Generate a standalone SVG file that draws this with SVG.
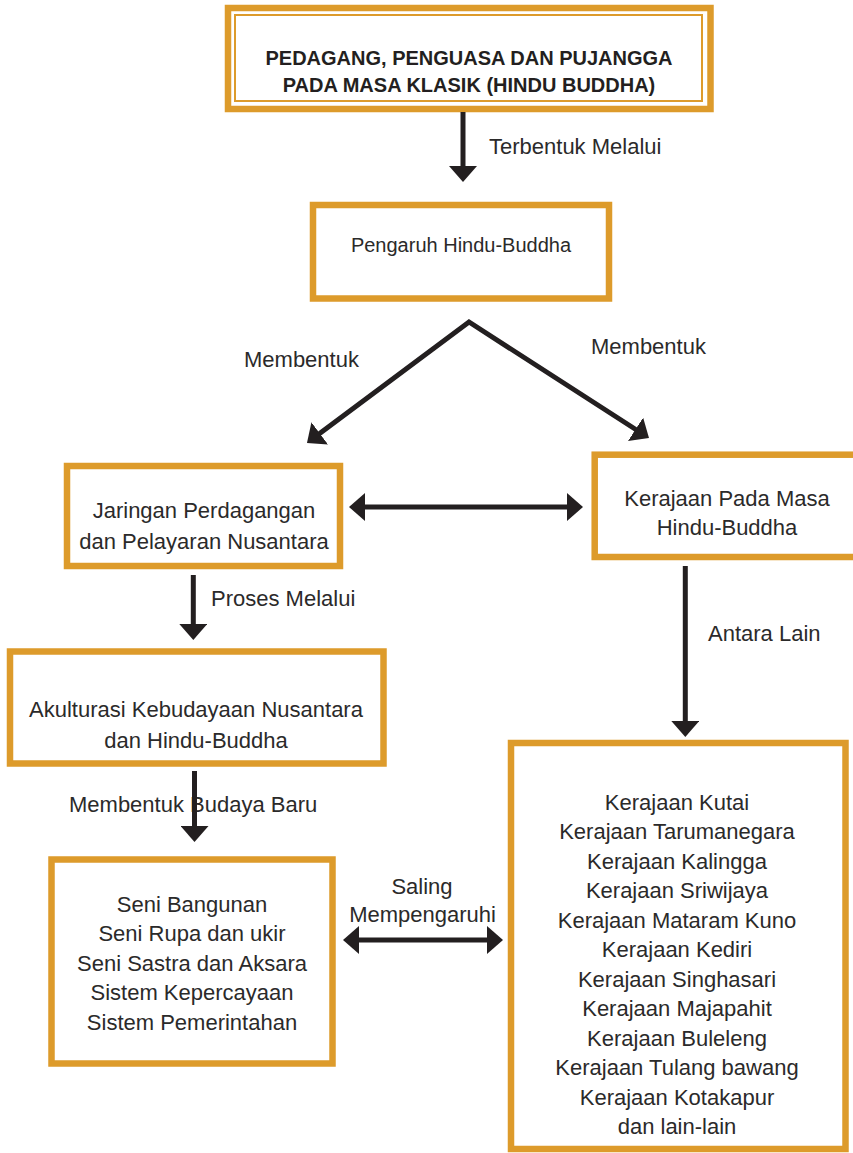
<svg xmlns="http://www.w3.org/2000/svg" width="853" height="1153" viewBox="0 0 853 1153">
<style>
.box{fill:#fff;stroke:#DD9B2B;stroke-width:6.5}
.thin{fill:none;stroke:#DD9B2B;stroke-width:2}
.t{font-family:"Liberation Sans",Arial,sans-serif;font-size:22px;fill:#2b2a2a;text-anchor:middle}
.s20{font-size:20px}
.b{font-weight:bold;font-size:20px;fill:#231f20}
.lbl{font-family:"Liberation Sans",Arial,sans-serif;font-size:22px;fill:#2b2a2a}
.arr{fill:none;stroke:#231f20;stroke-width:5;marker-end:url(#ah)}
.dbl{fill:none;stroke:#231f20;stroke-width:5;marker-start:url(#ah);marker-end:url(#ah)}
</style>
<defs>
<marker id="ah" viewBox="0 0 16 28" refX="4" refY="14" markerWidth="16" markerHeight="28" markerUnits="userSpaceOnUse" orient="auto-start-reverse">
<path d="M0,0 L16,14 L0,28 z" fill="#231f20"/>
</marker>
</defs>
<rect width="853" height="1153" fill="#fff"/>

<g id="node-top">
<rect class="box" x="228" y="8" width="482.5" height="101"/>
<rect class="thin" x="235" y="15" width="467" height="86"/>
<text class="t b" x="469" y="65">PEDAGANG, PENGUASA DAN PUJANGGA</text>
<text class="t b" x="469" y="92">PADA MASA KLASIK (HINDU BUDDHA)</text>
</g>

<g id="node-pengaruh">
<rect class="box" x="313" y="205" width="296" height="93.5"/>
<text class="t s20" x="461" y="252">Pengaruh Hindu-Buddha</text>
</g>

<g id="node-jaringan">
<rect class="box" x="67" y="466" width="273" height="100"/>
<text class="t" x="204" y="518">Jaringan Perdagangan</text>
<text class="t" x="204" y="549">dan Pelayaran Nusantara</text>
</g>

<g id="node-kerajaan-masa">
<rect class="box" x="594.7" y="454.7" width="270" height="102.3"/>
<text class="t" x="727" y="506">Kerajaan Pada Masa</text>
<text class="t" x="727" y="535">Hindu-Buddha</text>
</g>

<g id="node-akulturasi">
<rect class="box" x="10" y="651.5" width="373.5" height="112"/>
<text class="t" x="196" y="717">Akulturasi Kebudayaan Nusantara</text>
<text class="t" x="196" y="748">dan Hindu-Buddha</text>
</g>

<g id="node-seni">
<rect class="box" x="51.5" y="859.5" width="281" height="204"/>
<text class="t" x="192" y="911.5">Seni Bangunan</text>
<text class="t" x="192" y="941">Seni Rupa dan ukir</text>
<text class="t" x="192" y="970.5">Seni Sastra dan Aksara</text>
<text class="t" x="192" y="1000">Sistem Kepercayaan</text>
<text class="t" x="192" y="1029.5">Sistem Pemerintahan</text>
</g>

<g id="node-daftar-kerajaan">
<rect class="box" x="511" y="743" width="334.5" height="406"/>
<text class="t" x="677" y="809.5">Kerajaan Kutai</text>
<text class="t" x="677" y="839">Kerajaan Tarumanegara</text>
<text class="t" x="677" y="868.5">Kerajaan Kalingga</text>
<text class="t" x="677" y="898">Kerajaan Sriwijaya</text>
<text class="t" x="677" y="927.5">Kerajaan Mataram Kuno</text>
<text class="t" x="677" y="957">Kerajaan Kediri</text>
<text class="t" x="677" y="986.5">Kerajaan Singhasari</text>
<text class="t" x="677" y="1016">Kerajaan Majapahit</text>
<text class="t" x="677" y="1045.5">Kerajaan Buleleng</text>
<text class="t" x="677" y="1075">Kerajaan Tulang bawang</text>
<text class="t" x="677" y="1104.5">Kerajaan Kotakapur</text>
<text class="t" x="677" y="1134">dan lain-lain</text>
</g>

<g id="connectors">
<text class="lbl" x="489" y="154" font-size="20">Terbentuk Melalui</text>
<text class="lbl" x="244" y="367" font-size="21">Membentuk</text>
<text class="lbl" x="591" y="354" font-size="21">Membentuk</text>
<text class="lbl" x="211" y="606" font-size="20">Proses Melalui</text>
<text class="lbl" x="708" y="641">Antara Lain</text>
<text class="lbl" x="69" y="812">Membentuk Budaya Baru</text>
<text class="t" x="422" y="894">Saling</text>
<text class="t" x="422.5" y="922">Mempengaruhi</text>

<path class="arr" d="M463,112 L463,170"/>
<path class="dbl" d="M316.6,435.8 L469,322 L638.9,431.5" stroke-linejoin="miter"/>
<path class="dbl" d="M361,507 L571,507"/>
<path class="arr" d="M193.3,575 L193.3,628"/>
<path class="arr" d="M685.3,566 L685.3,725"/>
<path class="arr" d="M194.5,771 L194.5,830"/>
<path class="dbl" d="M355,940 L491,940"/>
</g>
</svg>
